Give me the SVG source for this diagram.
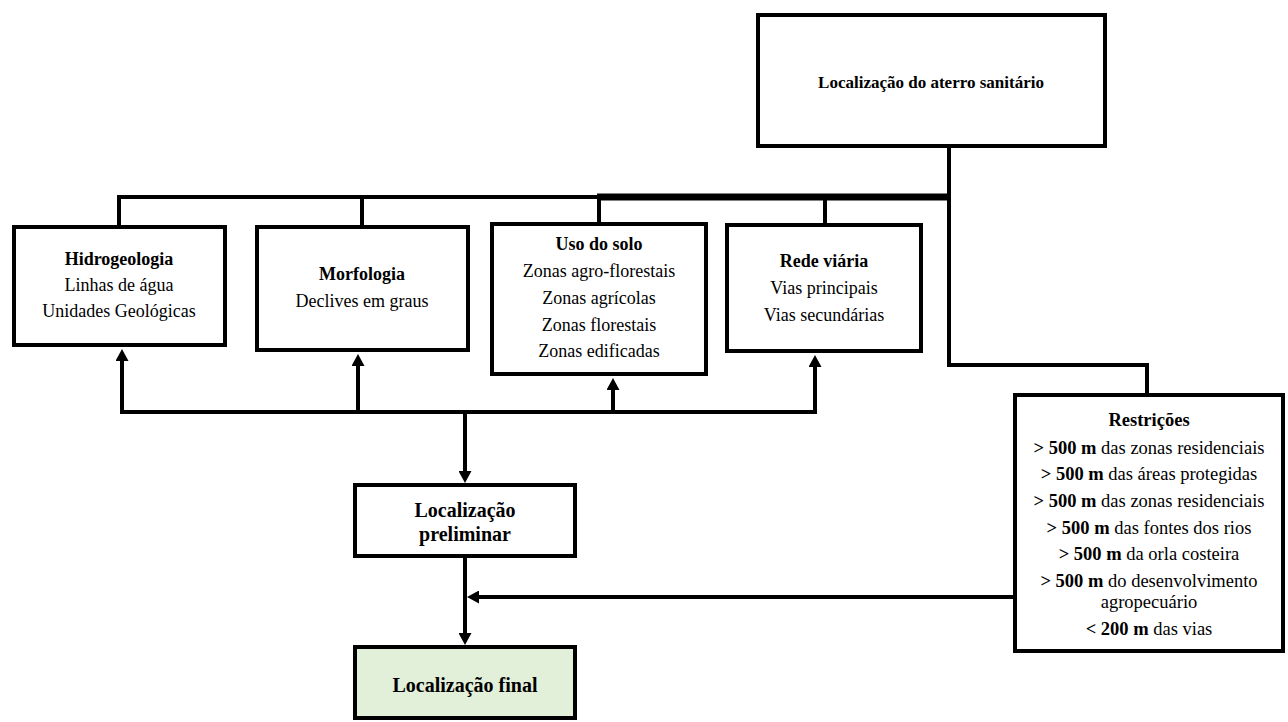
<svg xmlns="http://www.w3.org/2000/svg" width="1288" height="722" viewBox="0 0 1288 722">
<style>
.box{fill:#ffffff;stroke:#000000;stroke-width:4}
.fin{fill:#E2EFD9;stroke:#000000;stroke-width:4}
.ln{fill:none;stroke:#000000;stroke-width:4}
text{font-family:"Liberation Serif","Times New Roman",serif;fill:#000000;text-anchor:middle}
.t{font-size:18px}
.b{font-weight:bold}
.r{font-size:18.5px}
</style>
<defs>
<marker id="ah" markerUnits="userSpaceOnUse" markerWidth="12" markerHeight="13" viewBox="0 0 12 13" refX="2" refY="6.5" orient="auto">
<path d="M0,0 L12,6.5 L0,13 z" fill="#000000"/>
</marker>
</defs>
<g id="connectors">
<path class="ln" d="M119,225 V197 H597"/>
<path class="ln" d="M597,197 H951" style="stroke-width:7"/>
<path class="ln" d="M362,197 V225"/>
<path class="ln" d="M599,197 V222"/>
<path class="ln" d="M825,197 V223"/>
<path class="ln" d="M949,147 V365 H1147 V393"/>
<path class="ln" d="M120,412 H817"/>
<path class="ln" d="M122,412 V359" marker-end="url(#ah)"/>
<path class="ln" d="M358,412 V364" marker-end="url(#ah)"/>
<path class="ln" d="M613,412 V388" marker-end="url(#ah)"/>
<path class="ln" d="M815,412 V365" marker-end="url(#ah)"/>
<path class="ln" d="M465,412 V473" marker-end="url(#ah)"/>
<path class="ln" d="M465,558 V635" marker-end="url(#ah)"/>
<path class="ln" d="M1013,597 H477" marker-end="url(#ah)"/>
</g>
<g id="n-aterro">
<rect class="box" x="758" y="15" width="347" height="131"/>
<text class="b" x="931" y="88" font-size="17">Localização do aterro sanitário</text>
</g>
<g id="n-hidro">
<rect class="box" x="14" y="227" width="211" height="118"/>
<text class="t b" x="119" y="265">Hidrogeologia</text>
<text class="t" x="119" y="291">Linhas de água</text>
<text class="t" x="119" y="317">Unidades Geológicas</text>
</g>
<g id="n-morf">
<rect class="box" x="257" y="227" width="211" height="123"/>
<text class="t b" x="362" y="280">Morfologia</text>
<text class="t" x="362" y="307">Declives em graus</text>
</g>
<g id="n-uso">
<rect class="box" x="492" y="224" width="214" height="150"/>
<text class="t b" x="599" y="250">Uso do solo</text>
<text class="t" x="599" y="277">Zonas agro-florestais</text>
<text class="t" x="599" y="304">Zonas agrícolas</text>
<text class="t" x="599" y="331">Zonas florestais</text>
<text class="t" x="599" y="357">Zonas edificadas</text>
</g>
<g id="n-rede">
<rect class="box" x="727" y="225" width="194" height="126"/>
<text class="t b" x="824" y="267">Rede viária</text>
<text class="t" x="824" y="294">Vias principais</text>
<text class="t" x="824" y="321">Vias secundárias</text>
</g>
<g id="n-prelim">
<rect class="box" x="355" y="485" width="220" height="71"/>
<text class="b" x="465" y="517" font-size="20">Localização</text>
<text class="b" x="465" y="541" font-size="20">preliminar</text>
</g>
<g id="n-final">
<rect class="fin" x="355" y="647" width="220" height="71"/>
<text class="b" x="465" y="692" font-size="20">Localização final</text>
</g>
<g id="n-restr">
<rect class="box" x="1015" y="395" width="268" height="256"/>
<text class="r b" x="1149" y="426">Restrições</text>
<text class="r" x="1149" y="454"><tspan class="b">&gt; 500 m</tspan> das zonas residenciais</text>
<text class="r" x="1149" y="480"><tspan class="b">&gt; 500 m</tspan> das áreas protegidas</text>
<text class="r" x="1149" y="507"><tspan class="b">&gt; 500 m</tspan> das zonas residenciais</text>
<text class="r" x="1149" y="534"><tspan class="b">&gt; 500 m</tspan> das fontes dos rios</text>
<text class="r" x="1149" y="560"><tspan class="b">&gt; 500 m</tspan> da orla costeira</text>
<text class="r" x="1149" y="587"><tspan class="b">&gt; 500 m</tspan> do desenvolvimento</text>
<text class="r" x="1149" y="608">agropecuário</text>
<text class="r" x="1149" y="635"><tspan class="b">&lt; 200 m</tspan> das vias</text>
</g>
</svg>
